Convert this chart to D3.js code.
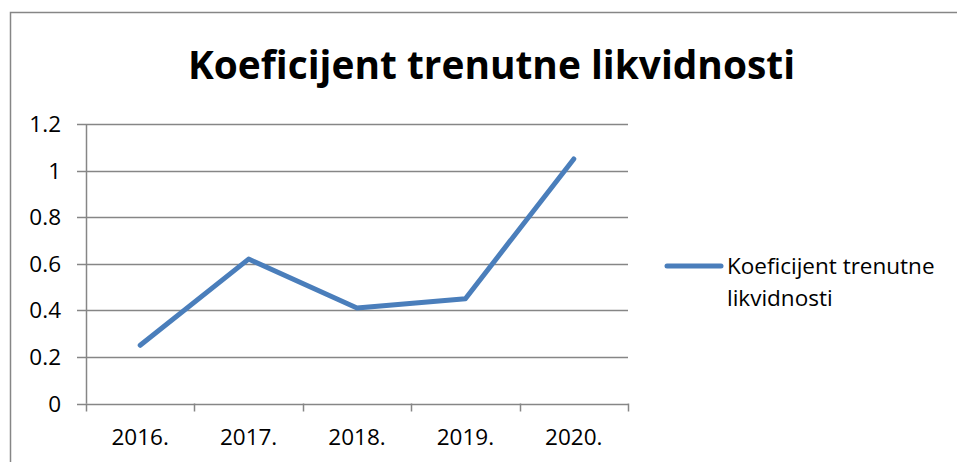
<!DOCTYPE html>
<html>
<head>
<meta charset="utf-8">
<script src="https://cdn.jsdelivr.net/npm/d3@7"></script>
<style>
  html, body { margin: 0; padding: 0; background: #fff; }
  svg { display: block; font-family: "Open Sans", "Noto Sans", sans-serif; }
</style>
</head>
<body>
<div id="chart"></div>
<script>
// chart data
const years = ['2016.', '2017.', '2018.', '2019.', '2020.'];
const ratio = [0.25, 0.62, 0.41, 0.45, 1.05];
const yTicks = [0, 0.2, 0.4, 0.6, 0.8, 1, 1.2];
const seriesName = 'Koeficijent trenutne likvidnosti';
const legendLines = ['Koeficijent trenutne', 'likvidnosti'];

const W = 957;
const H = 462;
const blue = '#4a7ebb';
const grey = '#868686';
const labelSize = 22.5;

const svg = d3.select('#chart').append('svg')
  .attr('width', W)
  .attr('height', H);

// outer frame (only top and left edges show in the crop)
svg.append('path')
  .attr('d', `M10.5,${H} V12.5 H${W}`)
  .attr('fill', 'none')
  .attr('stroke', grey)
  .attr('stroke-width', 1.5);

// title
svg.append('text')
  .attr('x', 188)
  .attr('y', 79)
  .attr('font-size', 39)
  .attr('font-weight', 'bold')
  .attr('textLength', 607)
  .attr('lengthAdjust', 'spacingAndGlyphs')
  .text(seriesName);

const x = d3.scaleBand().domain(years).range([86, 628]);
const y = d3.scaleLinear().domain([0, 1.2]).range([403.5, 124]);

// gridlines
svg.append('g')
  .selectAll('line')
  .data(yTicks)
  .join('line')
  .attr('x1', 77)
  .attr('x2', 628)
  .attr('y1', d => Math.round(y(d)) + 0.5)
  .attr('y2', d => Math.round(y(d)) + 0.5)
  .attr('stroke', grey)
  .attr('stroke-width', 1.5);

// y axis line
svg.append('line')
  .attr('x1', 86.5).attr('x2', 86.5)
  .attr('y1', y(1.2)).attr('y2', y(0))
  .attr('stroke', grey)
  .attr('stroke-width', 1.5);

// y labels
svg.append('g')
  .selectAll('text')
  .data(yTicks)
  .join('text')
  .attr('x', 61)
  .attr('y', d => y(d) + 8)
  .attr('text-anchor', 'end')
  .attr('font-size', labelSize)
  .text(d => d3.format('~g')(d));

// x ticks
const xEdges = years.map(d => x(d)).concat([x.range()[1]]);
svg.append('g')
  .selectAll('line')
  .data(xEdges)
  .join('line')
  .attr('x1', d => Math.round(d) + 0.5)
  .attr('x2', d => Math.round(d) + 0.5)
  .attr('y1', y(0))
  .attr('y2', y(0) + 8)
  .attr('stroke', grey)
  .attr('stroke-width', 1.5);

// x labels
svg.append('g')
  .selectAll('text')
  .data(years)
  .join('text')
  .attr('x', d => x(d) + x.bandwidth() / 2)
  .attr('y', 445)
  .attr('text-anchor', 'middle')
  .attr('font-size', labelSize)
  .text(d => d);

// series line
const line = d3.line()
  .x((d, i) => x(years[i]) + x.bandwidth() / 2)
  .y(d => y(d));

svg.append('path')
  .datum(ratio)
  .attr('d', line)
  .attr('fill', 'none')
  .attr('stroke', blue)
  .attr('stroke-width', 5)
  .attr('stroke-linecap', 'round')
  .attr('stroke-linejoin', 'round');

// legend
const legend = svg.append('g');
legend.append('line')
  .attr('x1', 667).attr('x2', 721)
  .attr('y1', 266).attr('y2', 266)
  .attr('stroke', blue)
  .attr('stroke-width', 5)
  .attr('stroke-linecap', 'round');

legend.selectAll('text')
  .data(legendLines)
  .join('text')
  .attr('x', 727)
  .attr('y', (d, i) => 274 + i * 32)
  .attr('font-size', labelSize)
  .text(d => d);
</script>
</body>
</html>
